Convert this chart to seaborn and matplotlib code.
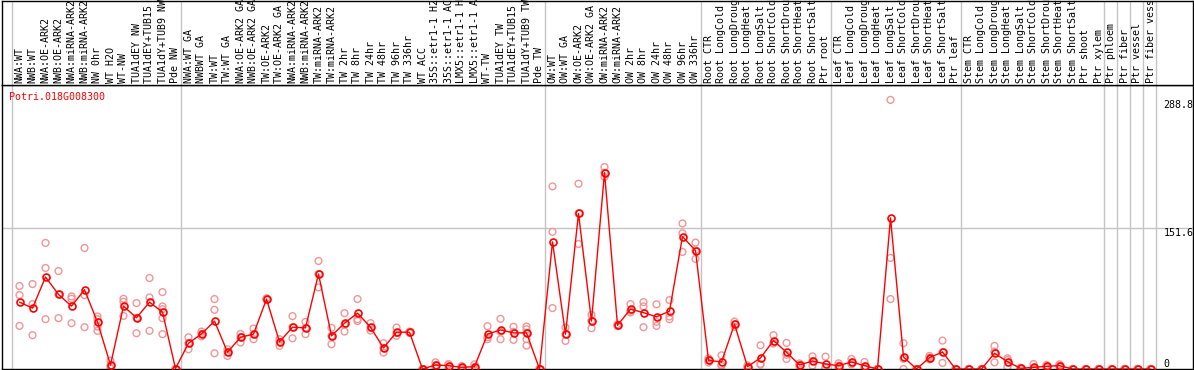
import pandas as pd
import matplotlib
matplotlib.use('Agg')
import matplotlib.pyplot as plt
import seaborn as sns

# sample names, in column order
samples = [
    'NWA:WT', 'NWB:WT', 'NWA:OE-ARK2', 'NWB:OE-ARK2', 'NWA:miRNA-ARK2', 'NWB:miRNA-ARK2',
    'NW 0hr', 'WT H2O', 'WT-NW', 'TUA1dEY NW', 'TUA1dEY+TUB15 NW', 'TUA1dY+TUB9 NW', 'Pde NW',
    'NWA:WT GA', 'NWBWT GA', 'TW:WT', 'TW:WT GA', 'NWA:OE-ARK2 GA', 'NWB:OE-ARK2 GA',
    'TW:OE-ARK2', 'TW:OE-ARK2 GA', 'NWA:miRNA-ARK2', 'NWB:miRNA-ARK2', 'TW:miRNA-ARK2',
    'TW:miRNA-ARK2', 'TW 2hr', 'TW 8hr', 'TW 24hr', 'TW 48hr', 'TW 96hr', 'TW 336hr',
    'WT ACC', '35S::etr1-1 H2O', '35S::etr1-1 ACC', 'LMX5::etr1-1 H2O', 'LMX5::etr1-1 ACC',
    'WT-TW', 'TUA1dEY TW', 'TUA1dEY+TUB15 TW', 'TUA1dY+TUB9 TW', 'Pde TW',
    'OW:WT', 'OW:WT GA', 'OW:OE-ARK2', 'OW:OE-ARK2 GA', 'OW:miRNA-ARK2', 'OW:miRNA-ARK2',
    'OW 2hr', 'OW 8hr', 'OW 24hr', 'OW 48hr', 'OW 96hr', 'OW 336hr',
    'Root CTR', 'Root LongCold', 'Root LongDrought', 'Root LongHeat', 'Root LongSalt',
    'Root ShortCold', 'Root ShortDrought', 'Root ShortHeat', 'Root ShortSalt', 'Ptr root',
    'Leaf CTR', 'Leaf LongCold', 'Leaf LongDrought', 'Leaf LongHeat', 'Leaf LongSalt',
    'Leaf ShortCold', 'Leaf ShortDrought', 'Leaf ShortHeat', 'Leaf ShortSalt', 'Ptr leaf',
    'Stem CTR', 'Stem LongCold', 'Stem LongDrought', 'Stem LongHeat', 'Stem LongSalt',
    'Stem ShortCold', 'Stem ShortDrought', 'Stem ShortHeat', 'Stem ShortSalt', 'Ptr shoot',
    'Ptr xylem', 'Ptr phloem', 'Ptr fiber', 'Ptr vessel', 'Ptr fiber vessel',
]

# mean expression per sample
mean_values = [
    71.8, 65.4, 98.8, 80.1, 67.5, 85.1, 50.3, 4.3, 67.5, 55.0, 71.8, 61.1, 0.5,
    27.7, 37.7, 51.4, 18.0, 34.1, 37.4, 75.1, 29.1, 44.9, 44.2, 102.0, 35.6,
    49.2, 60.0, 44.9, 22.6, 39.5, 39.5, 0.0, 4.3, 3.6, 1.8, 2.5,
    37.4, 42.0, 38.8, 38.8, 0.0,
    136.5, 37.4, 167.0, 51.4, 210.8, 47.0, 64.3, 60.5, 56.0, 62.1, 142.2, 127.2,
    9.3, 7.5, 48.1, 2.5, 11.9, 30.5, 18.0, 4.3, 8.6, 5.4,
    3.6, 7.5, 3.6, 0.0, 162.3, 12.9, 0.0, 12.2, 18.3, 0.0,
    0.0, 0.0, 16.9, 7.9, 0.7, 1.8, 2.9, 3.6, 0.0, 0.0,
    0.0, 0.0, 0.0, 0.0, 0.0,
]

# individual replicates per sample
rep_values = [
    [89.1, 79.4, 46.3], [91.2, 69.7, 36.3], [135.4, 108.5, 53.5], [105.2, 80.1, 54.6],
    [77.9, 75.4, 49.2], [130.0, 79.4, 44.9], [56.4, 53.5, 45.6, 41.0], [9.0, 3.5, 0.5],
    [75.4, 72.2, 57.1], [70.8, 55.0, 38.4], [97.7, 76.9, 41.0],
    [82.6, 67.2, 64.3, 54.6, 37.4], [0.0, 0.0, 0.0],
    [34.1, 27.7, 21.2], [40.2, 37.7, 35.0], [75.1, 63.6, 16.9], [21.2, 18.0, 14.0],
    [37.7, 34.1, 28.4], [43.5, 37.4, 32.0], [76.0, 75.1, 74.2], [32.0, 29.1, 24.8],
    [56.8, 44.9, 33.0], [50.6, 44.2, 37.4], [116.0, 102.0, 87.6], [44.2, 35.6, 26.6],
    [60.0, 47.5, 40.2], [75.1, 53.5, 51.5], [49.2, 44.2, 41.3], [27.7, 22.6, 17.6],
    [44.5, 38.5, 35.6], [40.2, 39.5, 38.8], [0.0, 0.0, 0.0], [7.2, 4.0, 1.7],
    [5.0, 5.0, 0.8], [3.2, 1.5, 0.7], [5.0, 2.0, 0.5],
    [46.0, 34.1, 32.0], [53.9, 40.0, 32.0], [45.3, 40.0, 31.3],
    [45.6, 42.7, 38.8, 32.0, 25.1], [0.0, 0.0, 0.0],
    [196.1, 147.3, 65.4], [44.5, 37.4, 30.2], [199.0, 167.0, 134.3], [58.2, 52.0, 43.8],
    [216.9, 210.8, 206.2], [48.0, 47.0, 46.0], [69.7, 62.5, 60.7], [71.8, 67.2, 44.9],
    [69.5, 50.6, 46.3], [74.0, 56.4, 53.5], [156.3, 145.8, 125.7], [135.8, 127.6, 118.2],
    [11.5, 9.3, 7.0], [14.7, 4.6, 3.2], [51.0, 48.1, 45.3], [3.9, 2.5, 1.1],
    [25.5, 5.5, 4.7], [36.3, 27.7, 27.5], [28.0, 15.2, 10.8], [6.0, 4.3, 2.6],
    [13.6, 8.6, 3.6], [13.3, 1.8, 1.1],
    [6.1, 3.6, 1.1], [10.8, 6.6, 5.1], [7.5, 2.5, 0.8], [0.0, 0.0, 0.0],
    [289.0, 119.3, 75.1], [27.7, 11.0, 0.0], [0.0, 0.0, 0.0], [14.0, 12.2, 10.4],
    [30.5, 18.0, 6.5], [0.0, 0.0, 0.0],
    [0.0, 0.0, 0.0], [0.0, 0.0, 0.0], [24.8, 18.7, 7.2], [11.5, 9.7, 2.5],
    [1.4, 0.7, 0.0], [5.4, 0.0, 0.0], [4.3, 2.9, 1.5], [5.0, 3.6, 2.2],
    [0.0, 0.0, 0.0], [0.0, 0.0, 0.0], [0.0, 0.0, 0.0], [0.0, 0.0, 0.0],
    [0.0, 0.0, 0.0], [0.0, 0.0, 0.0], [0.0, 0.0, 0.0],
]

# first column of each block (a grey separator is drawn before it)
group_starts = [0, 13, 41, 53, 63, 73, 84, 85, 86, 87, 88]
y_ticks = [288.8, 151.6, 0]
gene_id = 'Potri.018G008300'

W, H = 1194, 370
GRAY = '#c4c4c4'
FS = 7.2


def main():
    sns.set_style('white')
    plt.rcParams['font.family'] = ['DejaVu Sans Mono']

    mean_df = pd.DataFrame({'pos': range(len(samples)), 'value': mean_values})
    rep_df = pd.DataFrame(
        [(i, v) for i, reps in enumerate(rep_values) for v in reps],
        columns=['pos', 'value'])

    fig = plt.figure(figsize=(W / 100, H / 100), dpi=100)
    left, right = 1.5, 1193.0
    hdr_bottom = 85.0
    ax = fig.add_axes([left / W, 1 / H, (right - left) / W, (H - hdr_bottom - 1) / H])
    hdr = fig.add_axes([left / W, (H - hdr_bottom) / H, (right - left) / W, hdr_bottom / H - 0.5 / H])

    # column i sits at pixel 19.5 + 13 * i
    xlim = ((left - 19.5) / 13, (right - 19.5) / 13)
    for a in (ax, hdr):
        a.set_xlim(*xlim)
        a.set_xticks([])
        a.set_yticks([])
        for s in a.spines.values():
            s.set_color('black')
            s.set_linewidth(1)
        for g in group_starts:
            a.axvline(g - 8 / 13, color=GRAY, lw=1, zorder=0)
    hdr.set_ylim(0, 1)
    ax.set_ylim(0, 305)
    ax.axhline(151.6, color=GRAY, lw=1, zorder=0)

    sns.scatterplot(data=rep_df, x='pos', y='value', ax=ax, marker='o', s=24,
                    facecolor='none', edgecolor='#f09696', linewidth=1, zorder=2)
    sns.lineplot(data=mean_df, x='pos', y='value', ax=ax, color='red', lw=1,
                 marker='o', markersize=5, markerfacecolor='none',
                 markeredgecolor='red', markeredgewidth=1.2, zorder=3)
    ax.set_xlabel('')
    ax.set_ylabel('')

    for i, lab in enumerate(samples):
        hdr.text(i, 2 / 85, lab, rotation=90, ha='center', va='bottom',
                 fontsize=FS, color='black')

    for v in y_ticks:
        ax.text(88.0, v, f'{v:g}' if v else '0', ha='left',
                va='bottom' if v == 0 else 'top', fontsize=FS, color='black')

    fig.text(9 / W, 1 - 97 / H, gene_id, color='red', fontsize=FS, va='center', ha='left')

    fig.savefig('out.png', dpi=100)


if __name__ == '__main__':
    main()
